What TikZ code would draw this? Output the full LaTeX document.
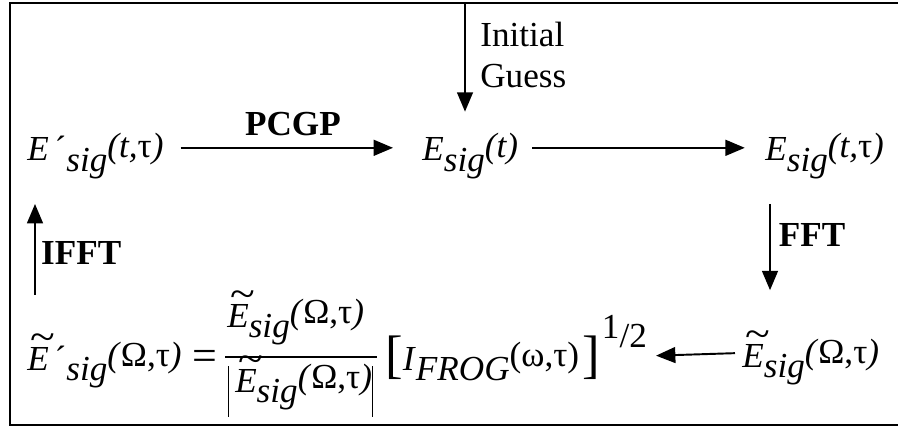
\documentclass[tikz,border=0pt]{standalone}
\usepackage{fontspec}
\setmainfont{Liberation Serif}
\usetikzlibrary{arrows.meta, positioning}

% pieces of the Word-style formulas
\newcommand{\lowsub}[1]{\raisebox{-6pt}{\itshape #1}}
\newcommand{\highargs}[1]{\raisebox{2pt}{#1}}
\newcommand{\tildeE}{\makebox[0pt][l]{\hspace{2pt}\raisebox{11pt}{\scalebox{1.3}[1.15]{\textasciitilde}}}\textit{E}}
\newcommand{\bigbr}[1]{\raisebox{-1.5pt}{\fontsize{30}{30}\selectfont #1}}
\newcommand{\absbar}{\rule[-14pt]{0.6pt}{29pt}}

\begin{document}
\begin{tikzpicture}[x=0.2mm, y=-0.2mm,
    formula/.style={inner sep=0pt, anchor=base west, font=\fontsize{20}{24}\selectfont},
    oplabel/.style={inner sep=0pt, font=\fontsize{20}{24}\selectfont\bfseries},
    arrow/.style={-{Triangle[length=11pt, width=9pt]}, line width=1.1pt},
]
\useasboundingbox (0,0) rectangle (898,428);
% open frame
\draw[line width=1.1pt] (898,3) -| (10,425) -- (898,425);

% ===== TOP ROW =====
\node[formula] (esigp) at (27,161) {\textit{E}\,´\lowsub{sig}\highargs{\textit{(t,}τ\textit{)}}};
\node[formula] (esigt) at (422,161) {\textit{E}\lowsub{sig}\highargs{\textit{(t)}}};
\node[formula] (esigtt) at (765,161) {\textit{E}\lowsub{sig}\highargs{\textit{(t,}τ\textit{)}}};

\coordinate (guessin) at (465,4);
\node[formula, anchor=north west, align=left, font=\fontsize{20}{23.3}\selectfont] (guess) at (480,22) {Initial\\Guess};
\draw[arrow, shorten >=12pt] (guessin) -- (guessin |- esigt.north);

\draw[arrow, shorten <=9.5pt, shorten >=16.5pt] ([yshift=7.5pt]esigp.base east) -- node[oplabel, above=6.5pt] (pcgp) {PCGP} ([yshift=7.5pt]esigt.base west);
\draw[arrow, shorten <=8pt, shorten >=11.5pt] ([yshift=7.5pt]esigt.base east) -- ([yshift=7.5pt]esigtt.base west);

% ===== BOTTOM ROW =====
\node[formula] (eomp) at (27,370) {\tildeE\,´\lowsub{sig}\highargs{\textit{(}Ω,τ\textit{)}}};
\node[formula, base right=6pt of eomp] (eq) {\scalebox{1.25}{=}};
\node[formula] (num) at (227,327) {\tildeE\lowsub{sig}\highargs{\textit{(}Ω,τ\textit{)}}};
\draw[line width=1pt] (225,357) -- (377,357); % fraction bar
\node[formula] (den) at (228,392) {\absbar\,\tildeE\lowsub{sig}\highargs{\textit{(}Ω,τ\textit{)}}\absbar};
\node[formula] (ifrog) at (385,370) {\bigbr{[}\textit{I}\lowsub{FROG}\highargs{(ω,τ)}\kern2pt\bigbr{]}\kern1pt\raisebox{18pt}{1}\raisebox{13pt}{/2}};
\node[formula] (eomr) at (742,367) {\tildeE\lowsub{sig}\highargs{\textit{(}Ω,τ\textit{)}}};

\draw[arrow, shorten <=4pt, shorten >=5pt] ([yshift=8pt]eomr.base west) -- ([yshift=8pt]ifrog.base east);

% ===== SIDE ARROWS =====
\coordinate (fftx) at (770,0);
\draw[arrow, shorten <=14pt, shorten >=23pt] (esigtt.south -| fftx) -- node[oplabel, right=4.5pt, pos=0.37] (fft) {FFT} (eomr.north -| fftx);
\coordinate (ifftx) at (35,0);
\draw[arrow, shorten <=22pt, shorten >=14pt] (eomp.north -| ifftx) -- node[oplabel, right=3pt, pos=0.52] (ifft) {IFFT} (esigp.south -| ifftx);

\end{tikzpicture}
\end{document}
